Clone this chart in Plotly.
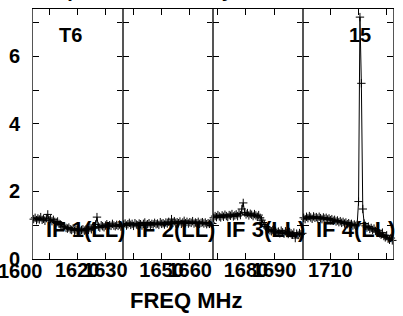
import plotly.graph_objects as go
from plotly.subplots import make_subplots

# ---- data ----
IF_NAMES = ["IF 1(LL)", "IF 2(LL)", "IF 3(LL)", "IF 4(LL)"]
IF_START_MHZ = [1604.3, 1636.3, 1668.3, 1700.3]
IF_BW_MHZ = 32.0
N_CHAN = 64

if1_amp = [1.18, 1.22, 1.15, 1.20, 1.17, 1.24, 1.16, 1.19, 1.13, 1.21, 1.32, 1.15, 1.18, 1.12, 1.16, 1.10,
           1.08, 1.11, 1.04, 1.02, 0.98, 0.95, 0.97, 0.92, 0.90, 0.93, 0.88, 0.86, 0.90, 0.84, 0.87, 0.85,
           0.89, 0.83, 0.86, 0.88, 0.84, 0.87, 0.90, 0.86, 0.92, 0.88, 0.95, 0.91, 1.02, 1.24, 0.96, 0.93,
           1.00, 0.97, 0.94, 0.99, 1.03, 0.96, 1.00, 0.98, 1.04, 0.99, 0.97, 1.01, 0.98, 1.02, 0.96, 0.99]
if2_amp = [1.02, 1.05, 0.99, 1.03, 1.07, 1.01, 1.04, 0.98, 1.06, 1.02, 1.00, 1.05, 1.03, 0.99, 1.04, 1.08,
           1.01, 1.03, 1.06, 1.00, 1.04, 1.02, 1.07, 1.03, 1.05, 1.01, 1.09, 1.04, 1.06, 1.02, 1.08, 1.05,
           1.10, 1.04, 1.18, 1.07, 1.12, 1.05, 1.09, 1.06, 1.11, 1.04, 1.08, 1.13, 1.06, 1.10, 1.05, 1.09,
           1.07, 1.12, 1.05, 1.08, 1.06, 1.10, 1.04, 1.07, 1.09, 1.05, 1.08, 1.03, 1.06, 1.04, 1.07, 1.05]
if3_amp = [1.22, 1.27, 1.24, 1.30, 1.26, 1.23, 1.29, 1.25, 1.31, 1.27, 1.24, 1.30, 1.28, 1.33, 1.26, 1.29,
           1.32, 1.27, 1.35, 1.30, 1.48, 1.66, 1.38, 1.32, 1.36, 1.29, 1.34, 1.31, 1.27, 1.33, 1.29, 1.25,
           1.30, 1.22, 1.15, 1.08, 1.02, 0.96, 0.92, 0.88, 0.85, 0.82, 0.86, 0.80, 0.83, 0.78, 0.81, 0.76,
           0.84, 0.79, 0.75, 0.82, 0.77, 0.74, 0.80, 0.76, 0.72, 0.78, 0.62, 0.75, 0.71, 0.77, 0.73, 0.76]
if4_amp = [1.22, 1.18, 1.25, 1.21, 1.27, 1.23, 1.19, 1.26, 1.22, 1.24, 1.20, 1.25, 1.21, 1.18, 1.23, 1.19,
           1.22, 1.17, 1.20, 1.15, 1.18, 1.13, 1.16, 1.11, 1.14, 1.09, 1.12, 1.07, 1.10, 1.05, 1.08, 1.03,
           1.06, 1.02, 1.04, 0.99, 1.02, 0.98, 1.01, 1.70, 7.16, 5.20, 1.48, 1.05, 0.98, 0.93, 0.96, 0.89,
           0.92, 0.86, 0.90, 0.83, 0.80, 0.85, 0.76, 0.72, 0.78, 0.68, 0.64, 0.70, 0.60, 0.57, 0.62, 0.55]
AMPS = [if1_amp, if2_amp, if3_amp, if4_amp]

# x ticks per panel (every 10 MHz) and their labels
XTICK_VALS = [[1610, 1620, 1630], [1640, 1650, 1660], [1670, 1680, 1690, 1700], [1710, 1720, 1730]]
XTICK_TEXT = [["", "1620", "1630"], ["", "1650", "1660"], ["", "1680", "1690", ""], ["1710", "", ""]]
FIRST_LABEL = 1600  # label drawn left of the first panel
YTICK_VALS = [0, 1, 2, 3, 4, 5, 6, 7]
YTICK_TEXT = ["0", "", "2", "", "4", "", "6", ""]
X_TITLE = "FREQ MHz"
TOP_TITLE = "Ampl  scalar 0000 by, 000"
SOURCE_LABEL = "T6"
BASELINE_LABEL = "15"

FONT = "Liberation Sans"
TICKFONT = dict(family=FONT, size=20, color="black", weight="bold")

fig = make_subplots(rows=1, cols=4, shared_yaxes=True, horizontal_spacing=0)

for i in range(4):
    f0 = IF_START_MHZ[i]
    dw = IF_BW_MHZ / N_CHAN
    freqs = [f0 + (k + 0.5) * dw for k in range(N_CHAN)]
    fig.add_trace(go.Scatter(
        x=freqs, y=AMPS[i], mode="lines+markers",
        line=dict(color="black", width=1),
        marker=dict(symbol="cross-thin-open", size=6, color="black",
                    line=dict(color="black", width=1)),
        showlegend=False, cliponaxis=False), row=1, col=i + 1)
    ax = dict(range=[f0, f0 + IF_BW_MHZ], tickvals=XTICK_VALS[i], ticktext=XTICK_TEXT[i],
              ticks="inside", ticklen=6, tickcolor="black", showline=True, linecolor="black",
              linewidth=1, mirror="ticks", showticklabels=True, tickangle=0,
              tickfont=TICKFONT, ticklabelstandoff=-7, showgrid=False,
              zeroline=False, automargin=False)
    fig.update_xaxes(ax, row=1, col=i + 1)
    ay = dict(range=[0, 7.4], tickvals=YTICK_VALS, ticktext=YTICK_TEXT,
              ticks="inside", ticklen=6, tickcolor="black", showline=True,
              linecolor="#555", linewidth=1, mirror="ticks", showgrid=False,
              zeroline=False, showticklabels=(i == 0), automargin=False,
              ticklabelstandoff=8, tickfont=TICKFONT)
    fig.update_yaxes(ay, row=1, col=i + 1)
    xr = "x" if i == 0 else "x%d" % (i + 1)
    yr = "y" if i == 0 else "y%d" % (i + 1)
    fig.add_annotation(x=f0 + IF_BW_MHZ / 2 + 2.5, y=0.87, xref=xr, yref=yr,
                       text=IF_NAMES[i], showarrow=False,
                       font=dict(family=FONT, size=22, color="black", weight="bold"),
                       xanchor="center", yanchor="middle")

# first label (1600) lies left of panel 1's range: place it in panel-1 domain units
fig.add_annotation(x=(FIRST_LABEL - IF_START_MHZ[0]) / IF_BW_MHZ, y=0,
                   xref="x domain", yref="paper", text=str(FIRST_LABEL), showarrow=False,
                   font=TICKFONT, xanchor="center", yanchor="middle", yshift=-12)

fig.add_annotation(x=1617.8, y=6.64, xref="x", yref="y", text=SOURCE_LABEL, showarrow=False,
                   font=dict(family=FONT, size=20, color="black", weight="bold"),
                   xanchor="center", yanchor="middle")
fig.add_annotation(x=1720.6, y=6.64, xref="x4", yref="y4", text=BASELINE_LABEL, showarrow=False,
                   font=dict(family=FONT, size=20, color="black", weight="bold"),
                   xanchor="center", yanchor="middle")
fig.add_annotation(x=0.425, y=0, xref="paper", yref="paper", text=X_TITLE, showarrow=False,
                   font=dict(family=FONT, size=22, color="black", weight="bold"),
                   xanchor="center", yanchor="middle", yshift=-41)
fig.add_annotation(x=0.0, y=1, xref="paper", yref="paper", text=TOP_TITLE, showarrow=False,
                   font=dict(family=FONT, size=20, color="black", weight="bold"),
                   xanchor="left", yanchor="bottom", yshift=6)

fig.update_layout(width=403, height=316, margin=dict(l=33, r=10, t=9, b=57, autoexpand=False),
                  plot_bgcolor="white", paper_bgcolor="white")

fig.write_html("out.html", config={"displayModeBar": False},
               post_script="document.body.style.margin='0';")
